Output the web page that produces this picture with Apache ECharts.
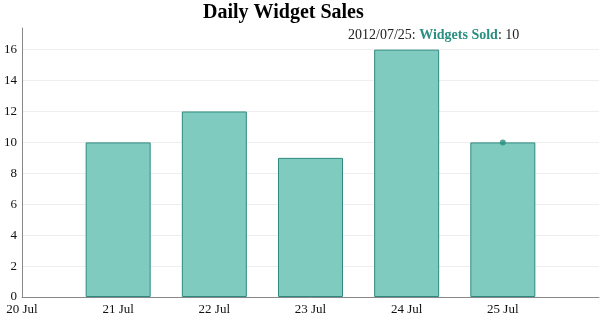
<!DOCTYPE html>
<html><head><meta charset="utf-8">
<script src="https://cdn.jsdelivr.net/npm/echarts@6/dist/echarts.min.js"></script>
<style>html,body{margin:0;padding:0;background:#fff}#c{width:606px;height:320px}</style>
</head><body><div id="c"></div>
<script>
const dayLabels = ['20 Jul','21 Jul','22 Jul','23 Jul','24 Jul','25 Jul'];
const barDays = [1,2,3,4,5];
const widgetsSold = [10,12,9,16,10];
const yTicks = [0,2,4,6,8,10,12,14,16];
const hoverDate = '2012/07/25';
const hoverIndex = 4;
const seriesName = 'Widgets Sold';

const font = '"Liberation Serif", "Times New Roman", serif';
const chart = echarts.init(document.getElementById('c'));
chart.setOption({
  animation:false,
  textStyle:{fontFamily:font},
  title:[{
    text:'Daily Widget Sales', left:198, top:-2,
    textStyle:{fontFamily:font,fontSize:20,fontWeight:'bold',color:'#000'}
  },{
    text:'{d|'+hoverDate+': }{n|'+seriesName+'}{d|: '+widgetsSold[hoverIndex]+'}',
    left:343, top:23,
    textStyle:{fontWeight:'normal',rich:{
      d:{fontFamily:font,fontSize:14,color:'#222',fontWeight:'normal'},
      n:{fontFamily:font,fontSize:14,color:'#2a8f80',fontWeight:'bold'}
    }}
  }],
  grid:{left:22,right:7,top:28,bottom:23},
  xAxis:{type:'value',min:0,max:6,interval:1,
    axisLine:{lineStyle:{color:'#888',width:1}},
    axisTick:{show:false},splitLine:{show:false},
    axisLabel:{showMaxLabel:false,color:'#111',fontSize:13,fontFamily:font,margin:6,
      formatter:v=>dayLabels[v]||''}
  },
  yAxis:{type:'value',min:0,max:17.4,
    axisLine:{show:true,lineStyle:{color:'#888',width:1}},
    axisTick:{show:false,customValues:yTicks},
    splitLine:{show:true,lineStyle:{color:'#eeeeee'}},
    axisLabel:{customValues:yTicks,color:'#111',fontSize:13,fontFamily:font,margin:5}
  },
  series:[{
    name:seriesName,type:'bar',barWidth:65,
    data:barDays.map((d,i)=>[d,widgetsSold[i]]),
    itemStyle:{color:'#7fcbc0',borderColor:'#2e8a7e',borderWidth:1}
  },{
    type:'scatter',symbolSize:6,
    data:[[barDays[hoverIndex],widgetsSold[hoverIndex]]],
    itemStyle:{color:'#2a8f80'},z:5
  }]
});
</script></body></html>
